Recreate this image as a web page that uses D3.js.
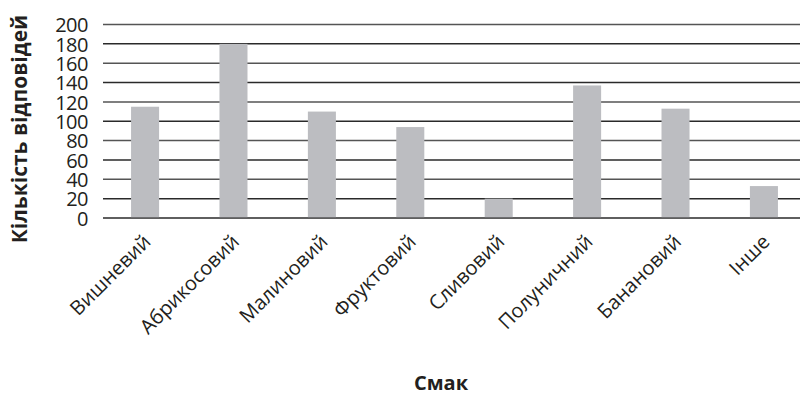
<!DOCTYPE html>
<html>
<head>
<meta charset="utf-8">
<script src="https://cdn.jsdelivr.net/npm/d3@7"></script>
<style>
  html, body { margin: 0; padding: 0; background: #fff; }
  svg { display: block; font-family: "Open Sans", "Noto Sans", sans-serif; }
</style>
</head>
<body>
<svg id="chart" width="800" height="396"></svg>
<script>
// Survey: number of answers per flavour
const flavours = ["Вишневий", "Абрикосовий", "Малиновий", "Фруктовий", "Сливовий", "Полуничний", "Банановий", "Інше"];
const answers = [115, 180, 110, 94, 20, 137, 113, 33];
const yTicks = [0, 20, 40, 60, 80, 100, 120, 140, 160, 180, 200];
const yTitle = "Кількість відповідей";
const xTitle = "Смак";

const svg = d3.select("#chart");
const plotLeft = 103, plotRight = 800, plotTop = 24.5, plotBottom = 218;

const x = d3.scaleBand()
  .domain(flavours)
  .range([101, 808])
  .paddingInner(0.683)
  .paddingOuter(0.34);

const y = d3.scaleLinear().domain([0, 200]).range([plotBottom, plotTop]);

// horizontal gridlines
svg.append("g")
  .selectAll("line")
  .data(yTicks)
  .join("line")
  .attr("x1", plotLeft)
  .attr("x2", plotRight)
  .attr("y1", d => y(d))
  .attr("y2", d => y(d))
  .attr("stroke", (d, i) => i % 2 ? "#2a2a2a" : "#555")
  .attr("stroke-width", 1.5);

// bars
svg.append("g")
  .selectAll("rect")
  .data(answers)
  .join("rect")
  .attr("x", (d, i) => x(flavours[i]))
  .attr("width", x.bandwidth())
  .attr("y", d => y(d))
  .attr("height", d => y(0) - y(d))
  .attr("fill", "#bcbdc1");

// baseline
svg.append("line")
  .attr("x1", plotLeft).attr("x2", plotRight)
  .attr("y1", y(0)).attr("y2", y(0))
  .attr("stroke", "#555").attr("stroke-width", 1.5);

// y tick labels
const yAxis = d3.axisLeft(y).tickValues(yTicks).tickSize(0).tickPadding(0);
const gy = svg.append("g").attr("transform", "translate(88,0)").call(yAxis);
gy.select(".domain").remove();
gy.selectAll("text")
  .attr("font-family", "'Open Sans', sans-serif")
  .attr("font-size", 20)
  .attr("fill", "#231f20")
  .attr("letter-spacing", "-0.5")
  .attr("dy", "0.36em");

// x category labels, rotated
const xAxis = d3.axisBottom(x).tickSize(0).tickPadding(0);
const gx = svg.append("g").attr("transform", `translate(0,${plotBottom})`).call(xAxis);
gx.select(".domain").remove();
gx.selectAll("text")
  .attr("font-family", "'Open Sans', sans-serif")
  .attr("font-size", 20)
  .attr("fill", "#231f20")
  .attr("text-anchor", "end")
  .attr("transform", "translate(7,25) rotate(-45)")
  .attr("dy", 0)
  .attr("y", 0);

// axis titles
svg.append("text")
  .attr("transform", "translate(27,129) rotate(-90)")
  .attr("text-anchor", "middle")
  .attr("font-family", "'Open Sans', sans-serif")
  .attr("font-weight", "bold")
  .attr("font-size", 21)
  .attr("fill", "#231f20")
  .text(yTitle);

svg.append("text")
  .attr("x", 441)
  .attr("y", 390)
  .attr("text-anchor", "middle")
  .attr("font-family", "'Open Sans', sans-serif")
  .attr("font-weight", "bold")
  .attr("font-size", 20)
  .attr("fill", "#231f20")
  .text(xTitle);
</script>
</body>
</html>
